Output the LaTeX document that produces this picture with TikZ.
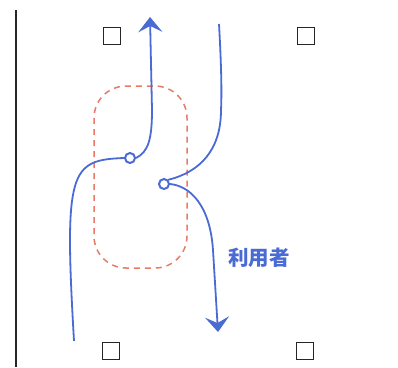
\documentclass[tikz,border=0pt]{standalone}
\usepackage{fontspec}
\newfontfamily\cjk{Noto Sans CJK JP}
\usetikzlibrary{arrows.meta}
\definecolor{penblue}{RGB}{74,106,212}
\definecolor{penred}{RGB}{232,122,104}
\tikzset{
  box/.style={draw=black!85,line width=1.1pt,minimum size=17pt,inner sep=0pt},
  ring/.style={circle,draw=penblue,line width=2pt,minimum size=10pt,inner sep=0pt},
  flow/.style={draw=penblue,line width=1.8pt},
  tip/.style={-{Stealth[length=15pt,width=24pt,inset=6pt]}},
  zone/.style={draw=penred,line width=1.5pt,dash pattern=on 6pt off 5pt,rounded corners=32pt}
}
\begin{document}
\begin{tikzpicture}[x=1pt,y=-1pt]
\useasboundingbox (0,0) rectangle (398,367);
\draw[line width=2pt,black!85] (16,10) -- (16,367);
\node[box] (sqa) at (112,36) {};
\node[box] (sqb) at (306,36) {};
\node[box] (sqc) at (111,351) {};
\node[box] (sqd) at (305,351) {};
\draw[zone] (94,86) rectangle (187,268);
\node[ring] (ca) at (130,158) {};
\node[ring] (cb) at (164,184) {};
\coordinate (a0) at (74,341);
\coordinate (a1) at (150,17);
\coordinate (b0) at (219,24);
\coordinate (b1) at (218,332);
\draw[flow] (a0) .. controls (64,170) and (70,160) .. (ca.west);
\draw[flow,tip] (ca.east) .. controls (148,152) and (152,140) .. (152,110) -- (a1);
\draw[flow] (b0) .. controls (221,60) and (222,90) .. (221,110) .. controls (221,150) and (200,172) .. (cb.north east);
\draw[flow,tip] (cb.east) .. controls (190,186) and (210,205) .. (213,250) -- (b1);
\node[text=penblue,font=\cjk\bfseries\fontsize{20.5}{20.5}\selectfont,inner sep=0pt] (lbl) at (259,258) {利用者};
\end{tikzpicture}
\end{document}
